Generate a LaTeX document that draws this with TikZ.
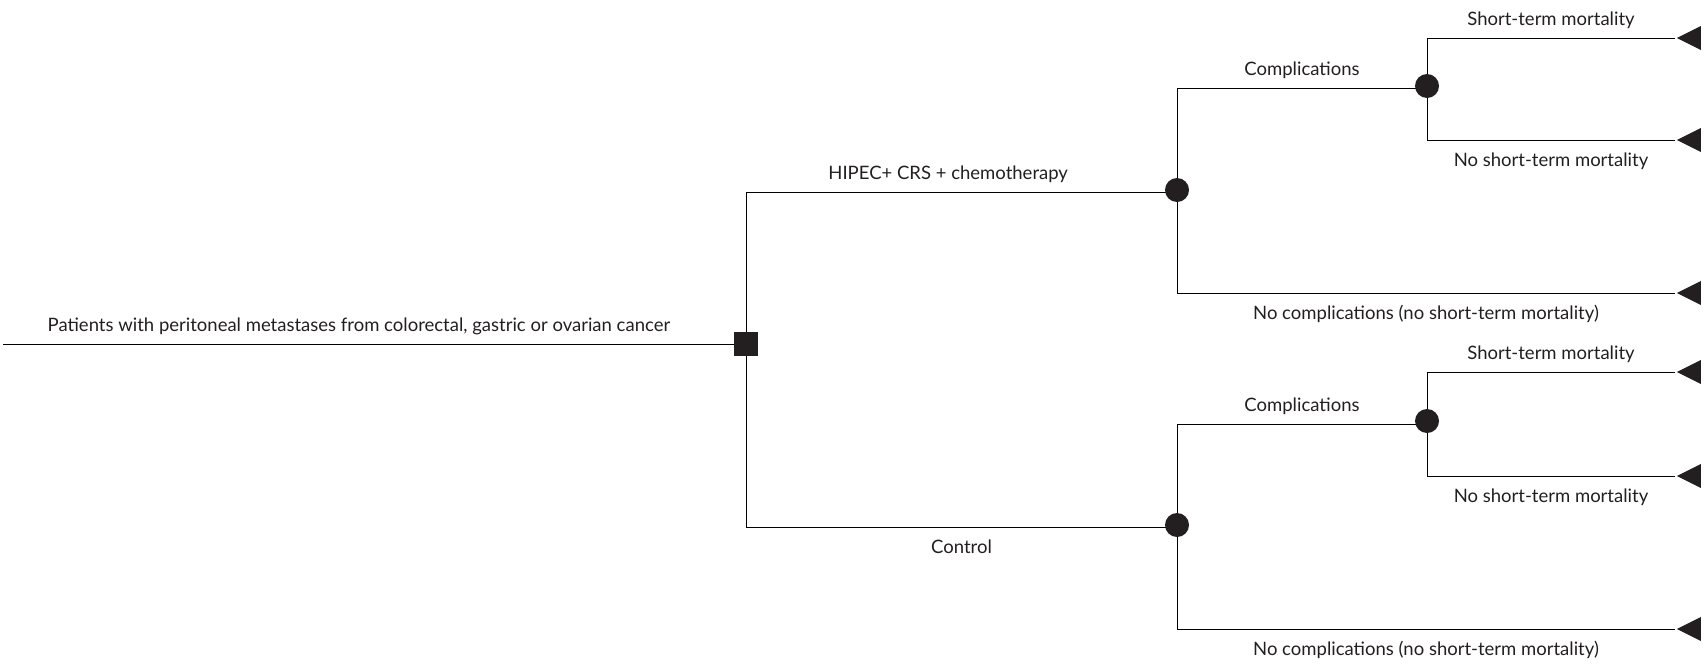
\documentclass[tikz,border=0pt]{standalone}
\usepackage{fontspec}
\setmainfont{Lato}
\usetikzlibrary{positioning,shapes.geometric,backgrounds}
\definecolor{ink}{HTML}{231F20}

\begin{document}
\begin{tikzpicture}[x=1pt,y=-1pt,line width=1.5pt,draw=ink,
	decision/.style={rectangle,fill=ink,minimum size=24pt,inner sep=0pt},
	chance/.style={circle,fill=ink,minimum size=24pt,inner sep=0pt},
	terminal/.style={isosceles triangle,shape border rotate=180,isosceles triangle stretches,
		fill=ink,minimum width=24pt,minimum height=24pt,inner sep=0pt,anchor=apex},
	lbl/.style={text=ink,font=\fontsize{18.5}{22}\selectfont,inner sep=0pt,text height=13pt,text depth=4.5pt}]
			\useasboundingbox (0,0) rectangle (1708,664);

			%decision and chance nodes
			\node [decision] (dec) at (746,344) {};
			\node [chance] (ch1) at (1177,190) {};
			\node [chance] (ch2) at (1177,525) {};
			\node [chance] (ch11) at (1427,86) {};
			\node [chance] (ch21) at (1427,421) {};

			%terminal nodes
			\node [terminal] (t1) at (1675,38) {};
			\node [terminal] (t2) at (1675,140) {};
			\node [terminal] (t3) at (1675,293) {};
			\node [terminal] (t4) at (1675,372) {};
			\node [terminal] (t5) at (1675,476) {};
			\node [terminal] (t6) at (1675,629) {};

			%line ends and bends
			\coordinate (start) at (3,344);
			\coordinate (up) at (746,192);
			\coordinate (down) at (746,527);
			\coordinate (comp1) at (1427,88);
			\coordinate (comp2) at (1427,424);

			%branches
			\begin{scope}[on background layer]
			\draw (start) -- node[lbl, pos=.479, above=8pt] {Patients with peritoneal metastases from colorectal, gastric or ovarian cancer} (dec.center);
			\draw (dec.center) -- (up) -- node[lbl, pos=.469, above=8pt] {HIPEC+ CRS + chemotherapy} (up -| ch1);
			\draw (dec.center) -- (down) -- node[lbl, midway, below=13pt] {Control} (down -| ch2);
			\draw (ch1.center) |- node[lbl, pos=.75, above=8pt] {Complications} (comp1);
			\draw (ch1.center) |- node[lbl, pos=.75, below=13pt] {No complications (no short-term mortality)} (t3.apex);
			\draw (ch11.center) |- node[lbl, pos=.75, above=8pt] {Short-term mortality} (t1.apex);
			\draw (ch11.center) |- node[lbl, pos=.75, below=13pt] {No short-term mortality} (t2.apex);
			\draw (ch2.center) |- node[lbl, pos=.75, above=8pt] {Complications} (comp2);
			\draw (ch2.center) |- node[lbl, pos=.75, below=13pt] {No complications (no short-term mortality)} (t6.apex);
			\draw (ch21.center) |- node[lbl, pos=.75, above=8pt] {Short-term mortality} (t4.apex);
			\draw (ch21.center) |- node[lbl, pos=.75, below=13pt] {No short-term mortality} (t5.apex);
			\end{scope}
		\end{tikzpicture}
\end{document}
